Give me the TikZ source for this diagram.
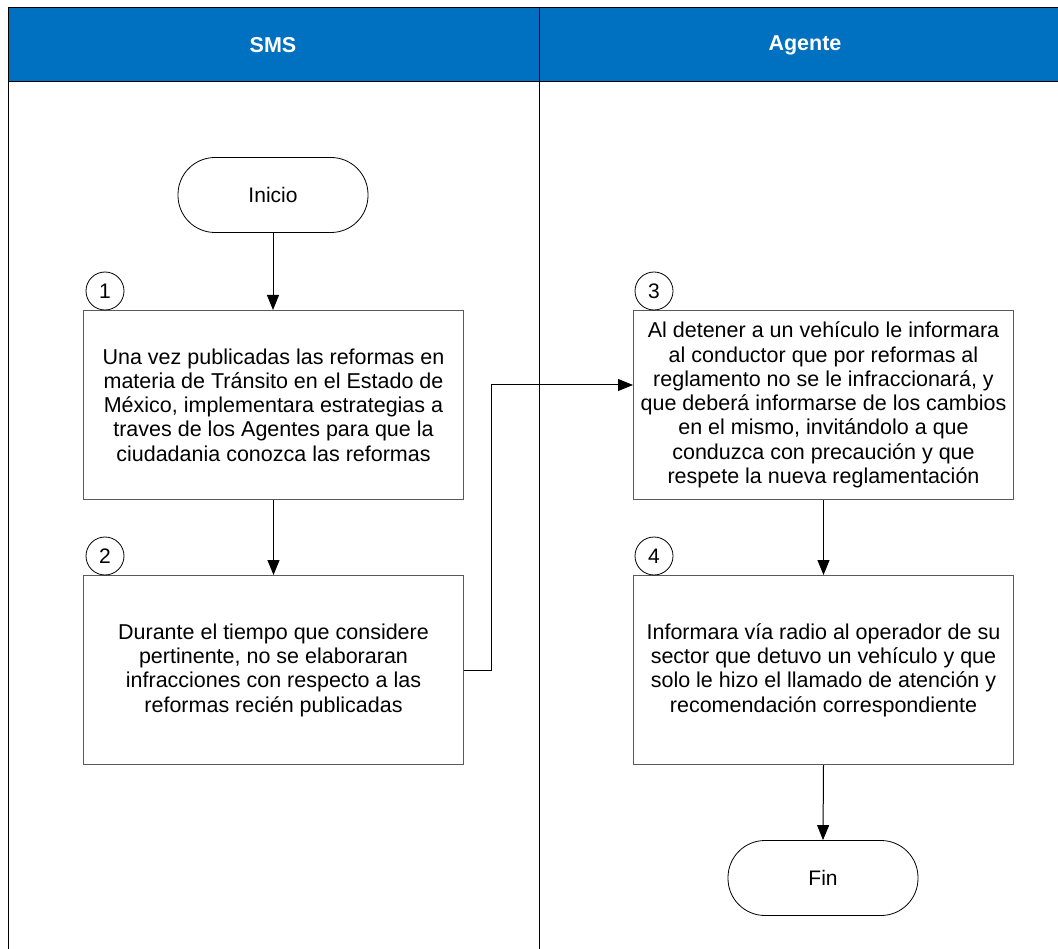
\documentclass[tikz,border=0pt]{standalone}
\usepackage{fontspec}
\setmainfont{Liberation Sans}
\usetikzlibrary{arrows.meta}
\definecolor{hdr}{RGB}{0,112,192}
\definecolor{boxline}{RGB}{90,90,90}
\tikzset{
  lane/.style={draw=black, line width=1pt},
  procbox/.style={draw=boxline, line width=1pt, minimum width=380pt, minimum height=189pt, align=center, font=\fontsize{21.5}{24.3}\selectfont, inner sep=0pt, anchor=north west},
  term/.style={draw=black, line width=0.8pt, rounded corners=37pt, minimum width=190pt, minimum height=75pt, font=\fontsize{21}{24}\selectfont},
  num/.style={draw=black, line width=0.8pt, circle, minimum size=38pt, inner sep=0pt, font=\fontsize{21}{24}\selectfont},
  flow/.style={draw=black, line width=1pt, -{Triangle[length=15pt,width=12pt]}},
  hdrtext/.style={text=white, font=\bfseries\fontsize{21.5}{24}\selectfont}
}
\begin{document}
\begin{tikzpicture}[x=1pt,y=-1pt]
\useasboundingbox (0,0) rectangle (1058,949);
% header
\fill[hdr] (8,8) rectangle (1058,82);
\draw[lane] (8,8) -- (1058,8);
\draw[lane] (8,82) -- (1058,82);
\draw[lane] (8,8) -- (8,949);
\draw[lane] (539,8) -- (539,949);
\node[hdrtext] (h1) at (273,45) {SMS};
\node[hdrtext] (h2) at (805,45) {Agente};
% nodes
\node[term] (ini) at (273,195) {Inicio};
\node[procbox] (b1) at (83,310) {Una vez publicadas las reformas en\\materia de Tránsito en el Estado de\\México, implementara estrategias a\\traves de los Agentes para que la\\ciudadania conozca las reformas};
\node[procbox] (b2) at (83,575) {Durante el tiempo que considere\\pertinente, no se elaboraran\\infracciones con respecto a las\\reformas recién publicadas};
\node[procbox] (b3) at (633,310) {Al detener a un vehículo le informara\\al conductor que por reformas al\\reglamento no se le infraccionará, y\\que deberá informarse de los cambios\\en el mismo, invitándolo a que\\conduzca con precaución y que\\respete la nueva reglamentación};
\node[procbox] (b4) at (633,575) {Informara vía radio al operador de su\\sector que detuvo un vehículo y que\\solo le hizo el llamado de atención y\\recomendación correspondiente};
\node[term] (fin) at (823,878) {Fin};
\node[num] (n1) at (105,291) {1};
\node[num] (n2) at (105,556) {2};
\node[num] (n3) at (654,291) {3};
\node[num] (n4) at (654,556) {4};
% connectors
\draw[flow] (ini.south) -- (b1.north -| ini.south);
\draw[flow] (b1.south) -- (b2.north);
\draw[flow] (b3.south) -- (b4.north);
\draw[flow] (b4.south) -- (fin.north);
\coordinate (c1) at (491,670);
\coordinate (c2) at (491,385);
\draw[flow] (b2.east |- c1) -- (c1) -- (c2) -- (b3.west |- c2);
\end{tikzpicture}
\end{document}
